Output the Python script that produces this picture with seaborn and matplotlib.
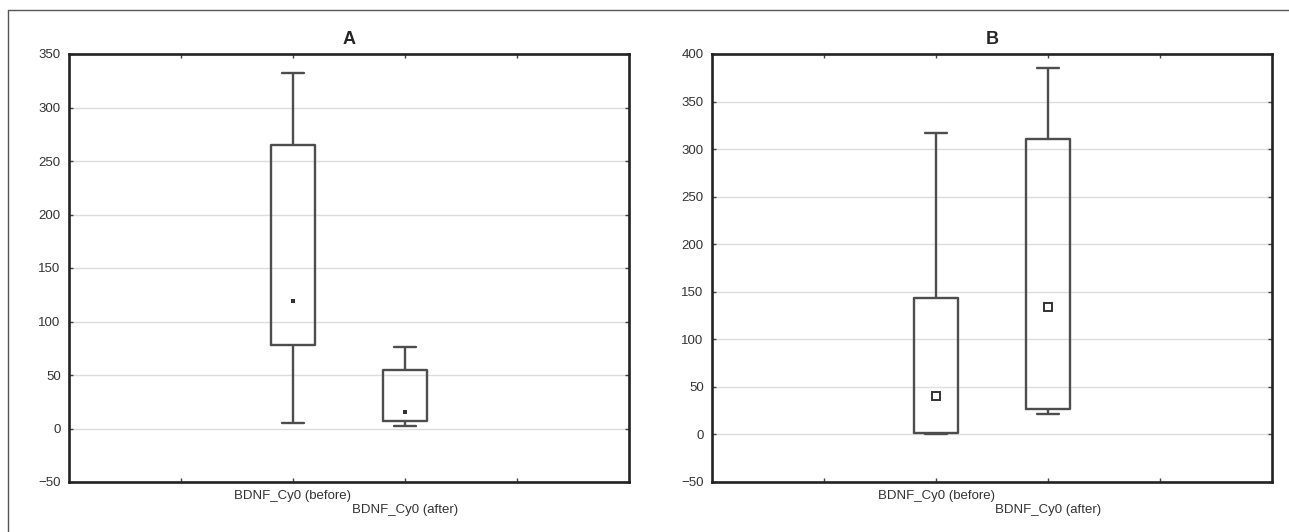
import numpy as np
import pandas as pd
import matplotlib
matplotlib.use("Agg")
import matplotlib.pyplot as plt
from matplotlib import font_manager
from matplotlib.lines import Line2D
import seaborn as sns

# summary values: min, 25%, median, 75%, max
groups = ["BDNF_Cy0 (before)", "BDNF_Cy0 (after)"]
a_before = [5, 78, 119, 265, 332]
a_after = [2, 7, 15, 55, 76]
b_before = [0, 2, 40, 143, 317]
b_after = [21, 27, 134, 311, 385]

a_yticks = [-50, 0, 50, 100, 150, 200, 250, 300, 350]
b_yticks = [-50, 0, 50, 100, 150, 200, 250, 300, 350, 400]

sns.set_style("white")
names = {f.name for f in font_manager.fontManager.ttflist}
fam = "Liberation Sans Narrow" if "Liberation Sans Narrow" in names else "Liberation Sans"
plt.rcParams["font.family"] = [fam, "DejaVu Sans"]
plt.rcParams["axes.unicode_minus"] = True

line_col = "#4d4d4d"


def make_df(before, after):
    return pd.DataFrame({
        "group": [groups[0]] * len(before) + [groups[1]] * len(after),
        "value": before + after,
    })


def draw_panel(ax, df, yticks, title, marker_kw):
    sns.boxplot(data=df, x="group", y="value", order=groups, ax=ax,
                whis=(0, 100), width=0.4, fill=False, color=line_col,
                linewidth=1.7, medianprops=dict(visible=False), showfliers=False)
    sns.pointplot(data=df, x="group", y="value", order=groups, ax=ax,
                  estimator="median", errorbar=None, linestyle="none",
                  marker="s", color="#333333", **marker_kw)
    ax.set_xlim(-2, 3)
    ax.set_ylim(yticks[0], yticks[-1])
    ax.set_yticks(yticks)
    ax.set_yticklabels([str(t).replace("-", "\u2212") for t in yticks])
    ax.set_xticks([-1, 0, 1, 2])
    ax.set_xticklabels(["", groups[0], "\n" + groups[1], ""])
    ax.set_xlabel(None)
    ax.set_ylabel(None)
    ax.yaxis.grid(True, color="#dcdcdc", linewidth=1)
    ax.set_axisbelow(True)
    for s in ax.spines.values():
        s.set_visible(True)
        s.set_color("#222222")
        s.set_linewidth(1.9)
    ax.tick_params(direction="in", length=3, width=1, color="#444444",
                   top=True, right=True, bottom=True, left=True,
                   labelsize=9.5, labelcolor="#333333", pad=6)
    ax.set_title(title, fontsize=13, fontweight="bold", pad=7,
                 family=["Liberation Sans", "DejaVu Sans"])


fig = plt.figure(figsize=(12.89, 5.32), dpi=100)
W, H = 1289, 532
ax_a = fig.add_axes([69 / W, 1 - 482 / H, 560 / W, 428 / H])
ax_b = fig.add_axes([712 / W, 1 - 482 / H, 560 / W, 428 / H])

draw_panel(ax_a, make_df(a_before, a_after), a_yticks, "A",
           dict(markersize=2.5, markeredgewidth=0))
draw_panel(ax_b, make_df(b_before, b_after), b_yticks, "B",
           dict(markersize=5.5, markerfacecolor="white",
                markeredgecolor="#333333", markeredgewidth=1.4))

# outer frame (top and left edge only)
fig.add_artist(Line2D([8 / W, 1], [1 - 10 / H, 1 - 10 / H], color="#555555", lw=1))
fig.add_artist(Line2D([8 / W, 8 / W], [0, 1 - 10 / H], color="#555555", lw=1))

fig.savefig("out.png", dpi=100)
